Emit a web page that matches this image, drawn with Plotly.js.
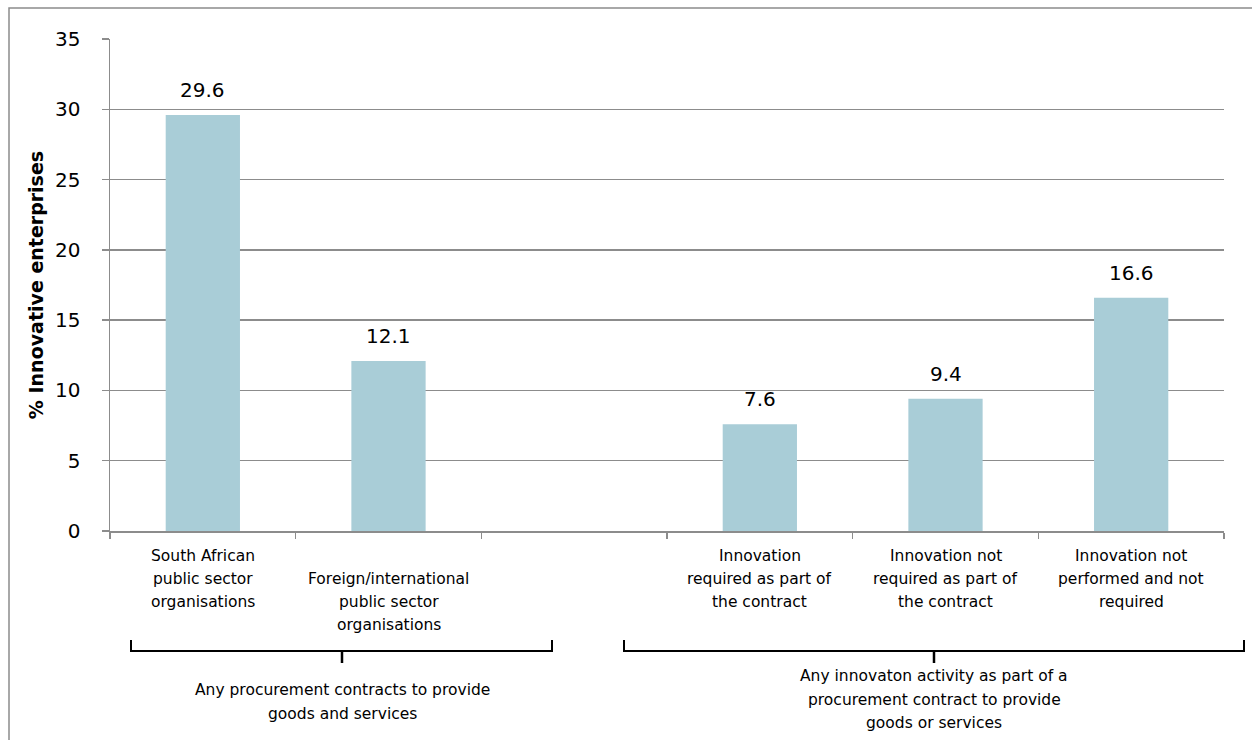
<!DOCTYPE html>
<html>
<head>
<meta charset="utf-8">
<script src="https://cdn.plot.ly/plotly-3.0.1.min.js"></script>
<style>
  html, body { margin: 0; padding: 0; background: #ffffff; }
  #chart { width: 1252px; height: 740px; }
</style>
</head>
<body>
<div id="chart"></div>
<script>
// Share of innovative enterprises by type of procurement contract
const categories = [
  "South African<br>public sector<br>organisations",
  "<br>Foreign/international<br>public sector<br>organisations",
  " ",
  "Innovation<br>required as part of<br>the contract",
  "Innovation not<br>required as part of<br>the contract",
  "Innovation not<br>performed and not<br>required"
];
const values = [29.6, 12.1, null, 7.6, 9.4, 16.6];
const valueLabels = ["29.6", "12.1", "", "7.6", "9.4", "16.6"];

const groupLabels = [
  ["Any procurement contracts to provide", "goods and services"],
  ["Any innovaton activity as part of a", "procurement contract to provide", "goods or services"]
];

const yTitle = "% Innovative enterprises";

const FONT = "DejaVu Sans, Verdana, sans-serif";
const GRID = "#8c8c8c";
const BAR = "#a9cdd7";

// plot box in pixels
const M = { l: 110, r: 28, t: 39, b: 209 };
const W = 1252, H = 740;
const PW = W - M.l - M.r, PH = H - M.t - M.b;
const px = x => (x - M.l) / PW;          // pixel x -> paper x
const py = y => (H - M.b - y) / PH;       // pixel y -> paper y

const trace = {
  type: "bar",
  x: categories,
  y: values,
  marker: { color: BAR, line: { width: 0 } },
  hoverinfo: "y",
  showlegend: false
};

const annotations = [];

// value labels above each bar
categories.forEach((c, i) => {
  if (values[i] == null) return;
  annotations.push({
    x: c, y: values[i], xref: "x", yref: "y",
    text: valueLabels[i], showarrow: false,
    yanchor: "bottom", yshift: 11,
    font: { family: FONT, size: 20, color: "#000" }
  });
});

// category labels, one line at a time for wider line spacing
categories.forEach(c => {
  c.split("<br>").forEach((t, k) => {
    if (!t.trim()) return;
    annotations.push({
      x: c, xref: "x", yref: "paper", y: py(556 + k * 23),
      text: t, showarrow: false,
      xanchor: "center", yanchor: "middle",
      font: { family: FONT, size: 15.5, color: "#000" }
    });
  });
});

// group brackets below the category labels
const brackets = [
  { x0: 131, x1: 552, xc: 342, textTop: 690, lines: groupLabels[0] },
  { x0: 624, x1: 1244, xc: 934, textTop: 676, lines: groupLabels[1] }
];
const shapes = [];
const yTop = py(640), yLine = py(651), yTip = py(663);
brackets.forEach(b => {
  shapes.push({
    type: "path", xref: "paper", yref: "paper",
    path: `M ${px(b.x0)} ${yTop} L ${px(b.x0)} ${yLine} L ${px(b.x1)} ${yLine} L ${px(b.x1)} ${yTop}`,
    line: { color: "#000", width: 2 }
  });
  shapes.push({
    type: "path", xref: "paper", yref: "paper",
    path: `M ${px(b.xc)} ${yLine} L ${px(b.xc)} ${yTip}`,
    line: { color: "#000", width: 2.5 }
  });
  b.lines.forEach((t, k) => {
    annotations.push({
      xref: "paper", yref: "paper",
      x: px(b.xc), y: py(b.textTop + k * 23.5),
      text: t, showarrow: false,
      xanchor: "center", yanchor: "middle",
      font: { family: FONT, size: 15.5, color: "#000" }
    });
  });
});

// outer frame
shapes.push({
  type: "rect", xref: "paper", yref: "paper",
  x0: px(9), x1: px(1262), y0: py(8), y1: py(760),
  line: { color: GRID, width: 1.5 }, fillcolor: "rgba(0,0,0,0)"
});

const layout = {
  width: W, height: H,
  margin: M,
  paper_bgcolor: "#fff", plot_bgcolor: "#fff",
  bargap: 0.6,
  font: { family: FONT, color: "#000" },
  xaxis: {
    type: "category",
    showline: true, linecolor: GRID, linewidth: 1.5,
    ticks: "outside", tickson: "boundaries", ticklen: 6, tickcolor: GRID, tickwidth: 1.5,
    showticklabels: false,
    showgrid: false, zeroline: false, fixedrange: true
  },
  yaxis: {
    range: [0, 35], dtick: 5, tick0: 0,
    showline: true, linecolor: GRID, linewidth: 1.5,
    ticks: "outside", ticklen: 7, tickcolor: GRID, tickwidth: 1.5,
    tickfont: { family: FONT, size: 20, color: "#000" },
    ticklabelstandoff: 17,
    showgrid: true, gridcolor: GRID, gridwidth: 1.5,
    zeroline: false, fixedrange: true,
    title: { text: yTitle, font: { family: FONT, size: 19, color: "#000", weight: "bold" }, standoff: 6 }
  },
  annotations: annotations,
  shapes: shapes
};

Plotly.newPlot("chart", [trace], layout, { displayModeBar: false, staticPlot: true });
</script>
</body>
</html>
